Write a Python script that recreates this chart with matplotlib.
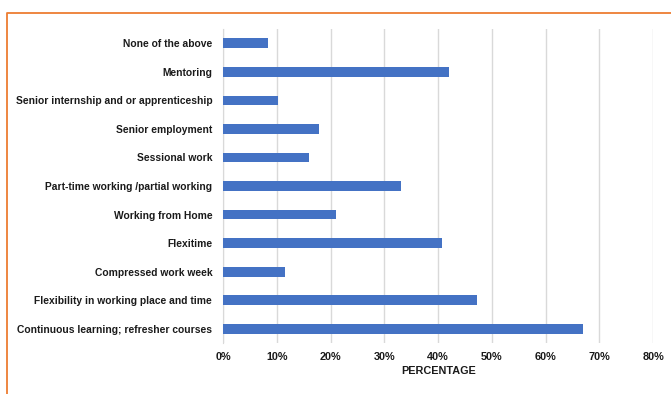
import matplotlib.pyplot as plt
from matplotlib.lines import Line2D
from matplotlib.ticker import PercentFormatter

categories = [
    'None of the above',
    'Mentoring',
    'Senior internship and or apprenticeship',
    'Senior employment',
    'Sessional work',
    'Part-time working /partial working',
    'Working from Home',
    'Flexitime',
    'Compressed work week',
    'Flexibility in working place and time',
    'Continuous learning; refresher courses',
]
percentages = [8.3, 42.0, 10.2, 17.8, 15.9, 33.1, 21.0, 40.8, 11.5, 47.2, 66.9]
x_ticks = [0, 10, 20, 30, 40, 50, 60, 70, 80]

plt.rcParams['font.family'] = ['Liberation Sans Narrow', 'Liberation Sans', 'DejaVu Sans']

fig = plt.figure(figsize=(6.71, 3.94), dpi=100)
ax = fig.add_axes([0.3328, 0.1294, 0.6404, 0.797])

ax.barh(range(len(categories)), percentages, height=0.34, color='#4472C4', zorder=3)
ax.set_ylim(len(categories) - 0.5, -0.5)
ax.set_xlim(0, 80)

ax.set_yticks(range(len(categories)))
ax.set_yticklabels(categories, fontsize=7.4, fontweight='bold', color='#1a1a1a')
ax.set_xticks(x_ticks)
ax.xaxis.set_major_formatter(PercentFormatter(decimals=0))
for lbl in ax.get_xticklabels():
    lbl.set_fontsize(7.8)
    lbl.set_fontweight('bold')
    lbl.set_color('#1a1a1a')
ax.tick_params(axis='both', length=0)
ax.tick_params(axis='y', pad=8)
ax.tick_params(axis='x', pad=6.5)

ax.set_xlabel('PERCENTAGE', fontsize=7.8, fontweight='bold', color='#1a1a1a', labelpad=3)

ax.grid(axis='x', color='#d9d9d9', linewidth=1, zorder=0)
for side in ['top', 'right', 'bottom']:
    ax.spines[side].set_visible(False)
ax.spines['left'].set_color('#d9d9d9')

# orange frame along the top and left edge
W, H = 671, 394
frame = Line2D([7.3 / W, 7.3 / W, 1.0], [0.0, 1 - 12.5 / H, 1 - 12.5 / H],
               transform=fig.transFigure, color='#ED7D31', linewidth=1.3)
fig.add_artist(frame)

fig.savefig('out.png', dpi=100)
